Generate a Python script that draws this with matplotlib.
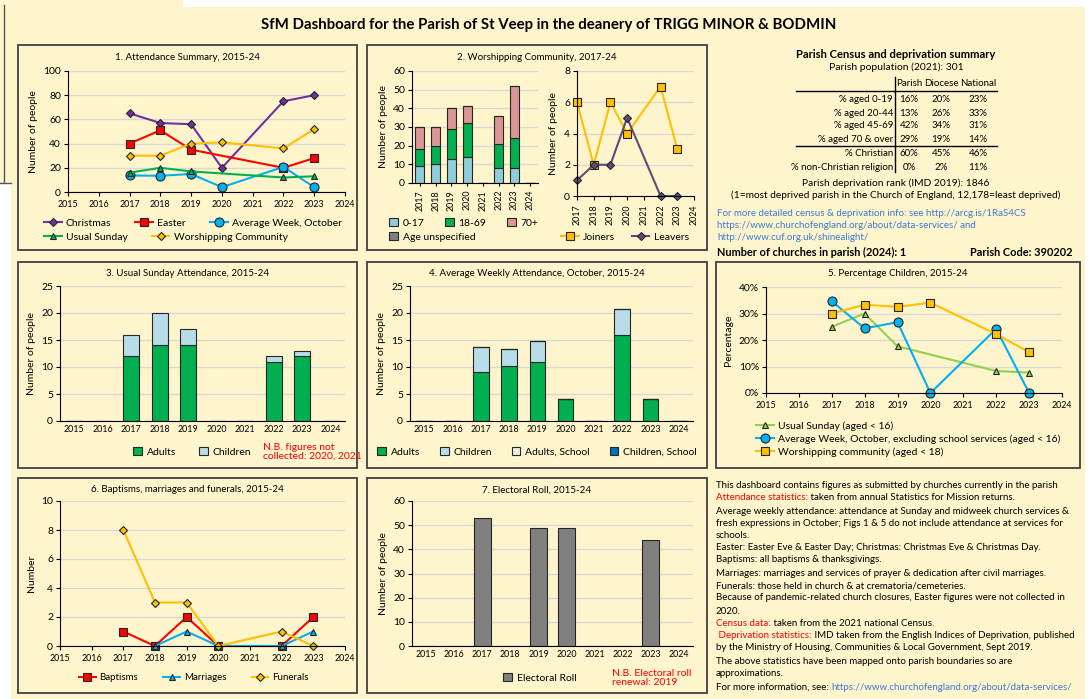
import numpy as np
import matplotlib
matplotlib.use("Agg")
import matplotlib.pyplot as plt
from matplotlib.patches import Rectangle
from matplotlib.legend import Legend

plt.rcParams['font.family'] = ['Lato', 'DejaVu Sans']

nan = np.nan
years = np.arange(2015, 2025)
year_labels = [str(y) for y in years]

# 1. Attendance summary
christmas = [nan, nan, 65, 57, 56, 20, nan, 75, 80, nan]
easter = [nan, nan, 40, 51, 35, nan, nan, 20, 28, nan]
avg_week = [nan, nan, 13.7, 13.4, 14.9, 4, nan, 20.7, 4, nan]
usual_sunday = [nan, nan, 16, 20, 17, nan, nan, 12, 13, nan]
worship_comm = [nan, nan, 30, 30, 40, 41, nan, 36, 52, nan]

# 2. Worshipping community
wc_years = np.arange(2017, 2025)
wc_0_17 = [9, 10, 13, 14, 0, 8, 8, 0]
wc_18_69 = [9, 10, 16, 18, 0, 13, 16, 0]
wc_70 = [12, 10, 11, 9, 0, 15, 28, 0]
wc_unspec = [0, 0, 0, 0, 0, 0, 0, 0]
joiners = [6, 2, 6, 4, nan, 7, 3, nan]
leavers = [1, 2, 2, 5, nan, 0, 0, nan]

# 3. Usual Sunday attendance
us_adults = [0, 0, 12, 14, 14, 0, 0, 11, 12, 0]
us_children = [0, 0, 4, 6, 3, 0, 0, 1, 1, 0]

# 4. Average weekly attendance, October
aw_adults = [0, 0, 9, 10.2, 10.9, 4, 0, 15.9, 4, 0]
aw_children = [0, 0, 4.7, 3.2, 4, 0, 0, 4.8, 0, 0]
aw_adults_school = [0, 0, 0, 0, 0, 0, 0, 0, 0, 0]
aw_children_school = [0, 0, 0, 0, 0, 0, 0, 0, 0, 0]

# 5. Percentage children
pct_usual = [nan, nan, 25, 30, 17.6, nan, nan, 8.3, 7.7, nan]
pct_avg = [nan, nan, 34.6, 24.4, 26.7, 0, nan, 24.2, 0, nan]
pct_wc = [nan, nan, 30, 33.3, 32.5, 34.1, nan, 22.2, 15.4, nan]

# 6. Baptisms, marriages, funerals
baptisms = [nan, nan, 1, 0, 2, 0, nan, 0, 2, nan]
marriages = [nan, nan, nan, 0, 1, 0, nan, 0, 1, nan]
funerals = [nan, nan, 8, 3, 3, 0, nan, 1, 0, nan]

# 7. Electoral roll
electoral = [0, 0, 53, 0, 49, 49, 0, 0, 44, 0]

# census table
census_rows = ['% aged 0-19', '% aged 20-44', '% aged 45-69', '% aged 70 & over',
               '% Christian', '% non-Christian religion']
census_parish = [16, 13, 42, 29, 60, 0]
census_diocese = [20, 26, 34, 19, 45, 2]
census_national = [23, 33, 31, 14, 46, 11]

CREAM = '#FFF5CC'
EDGE = '#262626'
GREEN = '#00B050'
LBLUE = '#B7DEE8'
CYAN = '#00B0F0'
ORANGE = '#FFC000'
PURPLE = '#7030A0'
RED = '#FF0000'
LINK = '#3A7BD5'

W, H = 1090, 699
fig = plt.figure(figsize=(W / 100, H / 100), dpi=100)
fig.patch.set_facecolor(CREAM)
bg = fig.add_axes([0, 0, 1, 1])
bg.set_xlim(0, W)
bg.set_ylim(H, 0)
bg.axis('off')

# page artefacts
bg.add_patch(Rectangle((183, 0), W - 183, 7, fc='white', ec='none'))
bg.add_patch(Rectangle((1085, 0), 5, H, fc='white', ec='none'))
bg.add_patch(Rectangle((0, 183), 11, H - 183, fc='white', ec='none'))
bg.plot([3.5, 3.5], [5, 182], color='#555555', lw=1)
bg.plot([0, 11], [182.5, 182.5], color='#555555', lw=1)

bg.text(549, 25, 'SfM Dashboard for the Parish of St Veep in the deanery of TRIGG MINOR & BODMIN',
        ha='center', va='center', fontsize=10.8, fontweight='bold')

boxes = [(18, 45, 357, 250, '1. Attendance Summary, 2015-24'),
         (367, 45, 707, 250, '2. Worshipping Community, 2017-24'),
         (18, 262, 357, 468, '3. Usual Sunday Attendance, 2015-24'),
         (367, 262, 707, 468, '4. Average Weekly Attendance, October, 2015-24'),
         (716, 262, 1080, 468, '5. Percentage Children, 2015-24'),
         (18, 478, 357, 693, '6. Baptisms, marriages and funerals, 2015-24'),
         (367, 478, 707, 693, '7. Electoral Roll, 2015-24')]
for x0, y0, x1, y1, title in boxes:
    bg.add_patch(Rectangle((x0, y0), x1 - x0, y1 - y0, fc='none', ec='#404040', lw=1.3))
    bg.text((x0 + x1) / 2, y0 + 12, title, ha='center', va='center', fontsize=7)


def add_ax(x0, y0, x1, y1):
    return fig.add_axes([x0 / W, 1 - y1 / H, (x1 - x0) / W, (y1 - y0) / H])


def style(ax, ymax, ystep, ylabel, xtick_len=3):
    ax.set_facecolor('none')
    for s in ['top', 'right']:
        ax.spines[s].set_visible(False)
    ax.set_ylim(0, ymax)
    ax.set_yticks(np.arange(0, ymax + 0.01, ystep))
    ax.yaxis.grid(True, color='#D9D9D9', lw=1)
    ax.set_axisbelow(True)
    ax.tick_params(axis='y', labelsize=7.5, length=3, pad=2)
    ax.tick_params(axis='x', labelsize=6.4, length=xtick_len, pad=3)
    ax.set_ylabel(ylabel, fontsize=7.5, labelpad=4)


def line(ax, x, y, color, marker, ms, label):
    x = np.asarray(x)
    y = np.asarray(y, float)
    m = ~np.isnan(y)
    return ax.plot(x[m], y[m], color=color, lw=1.5, marker=marker, ms=ms,
                   mfc=color, mec=EDGE, mew=0.8, label=label, clip_on=False)[0]


def fleg(handles, x, y, ncol, loc='center', **kw):
    opts = dict(frameon=False, fontsize=7.5, handlelength=1.7, handletextpad=0.4,
                columnspacing=2.1, labelspacing=0.35, borderpad=0, borderaxespad=0)
    opts.update(kw)
    leg = Legend(bg, handles, [h.get_label() for h in handles], loc=loc,
                 bbox_to_anchor=(x, y), bbox_transform=bg.transData, ncol=ncol, **opts)
    bg.add_artist(leg)
    return leg


def sq(color, label):
    return Rectangle((0, 0), 1, 1, fc=color, ec=EDGE, lw=0.8, label=label)


SQ = dict(handlelength=0.85, handleheight=0.85, handletextpad=0.45)

# ---- 1. Attendance summary
ax1 = add_ax(68, 71, 345, 192)
style(ax1, 100, 20, 'Number of people')
ax1.set_xlim(2015, 2024)
ax1.set_xticks(years)
h_chr = line(ax1, years, christmas, PURPLE, 'D', 4.5, 'Christmas')
h_eas = line(ax1, years, easter, RED, 's', 5.5, 'Easter')
h_avg = line(ax1, years, avg_week, CYAN, 'o', 6.5, 'Average Week, October')
h_us = line(ax1, years, usual_sunday, GREEN, '^', 5, 'Usual Sunday')
h_wc = line(ax1, years, worship_comm, ORANGE, 'D', 4, 'Worshipping Community')
fleg([h_chr, h_eas, h_avg], 44, 223, 3, loc='center left', columnspacing=2.3)
fleg([h_us, h_wc], 44, 237, 2, loc='center left', columnspacing=2.3)

# ---- 2. Worshipping community (bars)
ax2 = add_ax(412, 71, 538, 183)
style(ax2, 60, 10, 'Number of people', xtick_len=2)
xc = np.arange(len(wc_years))
b = np.zeros(len(wc_years))
for vals, col in [(wc_0_17, '#92CDDC'), (wc_18_69, GREEN), (wc_70, '#D99694'), (wc_unspec, '#7F7F7F')]:
    ax2.bar(xc, vals, 0.58, bottom=b, color=col, ec=EDGE, lw=0.8)
    b = b + np.array(vals)
ax2.set_xlim(-0.5, len(wc_years) - 0.5)
ax2.set_xticks(xc)
ax2.set_xticklabels([str(y) for y in wc_years], rotation=90)
fleg([sq('#92CDDC', '0-17'), sq(GREEN, '18-69'), sq('#D99694', '70+')], 389, 223, 3,
     loc='center left', columnspacing=2.0, **SQ)
fleg([sq('#7F7F7F', 'Age unspecified')], 389, 237, 1, loc='center left', **SQ)

ax2b = add_ax(577, 71, 694, 196)
style(ax2b, 8, 2, 'Number of people')
ax2b.set_xlim(2017, 2024)
ax2b.set_xticks(wc_years)
ax2b.set_xticklabels([str(y) for y in wc_years], rotation=90)
h_j = line(ax2b, wc_years, joiners, ORANGE, 's', 6, 'Joiners')
h_l = line(ax2b, wc_years, leavers, '#604A7B', 'D', 4.5, 'Leavers')
fleg([h_j, h_l], 561, 237, 2, loc='center left', columnspacing=1.6)

# ---- 3. Usual Sunday
xi = np.arange(len(years))
ax3 = add_ax(60, 286, 345, 421)
style(ax3, 25, 5, 'Number of people', xtick_len=0)
ax3.bar(xi, us_adults, 0.55, color=GREEN, ec=EDGE, lw=0.8)
ax3.bar(xi, us_children, 0.55, bottom=us_adults, color=LBLUE, ec=EDGE, lw=0.8)
ax3.set_xlim(-0.5, 9.5)
ax3.set_xticks(xi)
ax3.set_xticklabels(year_labels)
fleg([sq(GREEN, 'Adults'), sq(LBLUE, 'Children')], 133, 452, 2, loc='center left',
     columnspacing=2.2, **SQ)
bg.text(263, 452, 'N.B. figures not\ncollected: 2020, 2021', color=RED, fontsize=7.5,
        ha='left', va='center', linespacing=1.0)

# ---- 4. Average weekly attendance
ax4 = add_ax(410, 286, 693, 421)
style(ax4, 25, 5, 'Number of people', xtick_len=0)
b = np.zeros(len(years))
for vals, col in [(aw_adults, GREEN), (aw_children, LBLUE), (aw_adults_school, '#EEECE1'),
                  (aw_children_school, '#0070C0')]:
    ax4.bar(xi, vals, 0.55, bottom=b, color=col, ec=EDGE, lw=0.8)
    b = b + np.array(vals)
ax4.set_xlim(-0.5, 9.5)
ax4.set_xticks(xi)
ax4.set_xticklabels(year_labels)
fleg([sq(GREEN, 'Adults'), sq(LBLUE, 'Children'), sq('#EEECE1', 'Adults, School'),
      sq('#0070C0', 'Children, School')], 377, 452, 4, loc='center left', columnspacing=1.9, **SQ)

# ---- 5. Percentage children
ax5 = add_ax(766, 287, 1062, 393)
style(ax5, 40, 10, 'Percentage')
ax5.set_yticklabels([f'{v}%' for v in range(0, 41, 10)])
ax5.set_xlim(2015, 2024)
ax5.set_xticks(years)
h5a = line(ax5, years, pct_usual, '#92D050', '^', 5, 'Usual Sunday (aged < 16)')
h5b = line(ax5, years, pct_avg, CYAN, 'o', 6.5, 'Average Week, October, excluding school services (aged < 16)')
h5c = line(ax5, years, pct_wc, ORANGE, 's', 6, 'Worshipping community (aged < 18)')
fleg([h5a, h5b, h5c], 756, 439, 1, loc='center left', labelspacing=0.32)

# ---- 6. Baptisms, marriages, funerals
ax6 = add_ax(60, 501, 345, 646)
style(ax6, 10, 2, 'Number')
ax6.set_xlim(2015, 2024)
ax6.set_xticks(years)
h6a = line(ax6, years, baptisms, RED, 's', 5.5, 'Baptisms')
h6b = line(ax6, years, marriages, CYAN, '^', 5, 'Marriages')
h6c = line(ax6, years, funerals, ORANGE, 'D', 4.5, 'Funerals')
fleg([h6a, h6b, h6c], 79, 678, 3, loc='center left', fontsize=7, columnspacing=2.6)

# ---- 7. Electoral roll
ax7 = add_ax(412, 501, 693, 646)
style(ax7, 60, 10, 'Number of people', xtick_len=0)
ax7.bar(xi, electoral, 0.6, color='#808080', ec=EDGE, lw=0.8)
ax7.set_xlim(-0.5, 9.5)
ax7.set_xticks(xi)
ax7.set_xticklabels(year_labels)
fleg([sq('#808080', 'Electoral Roll')], 503, 678, 1, loc='center left', **SQ)
bg.text(612, 678, 'N.B. Electoral roll\nrenewal: 2019', color=RED, fontsize=7.5,
        ha='left', va='center', linespacing=1.0)

# ---- census summary
bg.text(896, 55, 'Parish Census and deprivation summary', ha='center', va='center',
        fontsize=8.1, fontweight='bold')
bg.text(896, 67, 'Parish population (2021): 301', ha='center', va='center', fontsize=7.5)
col_x = [909, 941, 978]
for cx, hdr in zip(col_x, ['Parish', 'Diocese', 'National']):
    bg.text(cx, 84, hdr, ha='center', va='center', fontsize=7)
row_y = [100, 113, 126, 139, 153, 167]
for ry, lab, p, d, n in zip(row_y, census_rows, census_parish, census_diocese, census_national):
    bg.text(893, ry, lab, ha='right', va='center', fontsize=7)
    for cx, v in zip(col_x, [p, d, n]):
        bg.text(cx, ry, f'{v}%', ha='center', va='center', fontsize=7)
bg.plot([895, 895], [77, 172], color='black', lw=1)
bg.plot([796, 997], [91, 91], color='black', lw=1)
bg.plot([796, 997], [146, 146], color='black', lw=1)
bg.text(896, 183, 'Parish deprivation rank (IMD 2019): 1846', ha='center', va='center', fontsize=7.4)
bg.text(896, 195, '(1=most deprived parish in the Church of England, 12,178=least deprived)',
        ha='center', va='center', fontsize=7.3)
for ly, t in zip([214, 226, 238], ['For more detailed census & deprivation info: see http://arcg.is/1RaS4CS',
                                  'https://www.churchofengland.org/about/data-services/ and',
                                  'http://www.cuf.org.uk/shinealight/']):
    bg.text(717, ly, t, ha='left', va='center', fontsize=7, color=LINK)
bg.text(717, 252, 'Number of churches in parish (2024): 1', ha='left', va='center',
        fontsize=7.9, fontweight='bold')
bg.text(1073, 252, 'Parish Code: 390202', ha='right', va='center', fontsize=7.9, fontweight='bold')

# ---- notes
notes = [
    [('This dashboard contains figures as submitted by churches currently in the parish', 'black')],
    [('Attendance statistics:', RED), (' taken from annual Statistics for Mission returns.', 'black')],
    [('Average weekly attendance: attendance at Sunday and midweek church services &', 'black')],
    [('fresh expressions in October; Figs 1 & 5 do not include attendance at services for', 'black')],
    [('schools.', 'black')],
    [('Easter: Easter Eve & Easter Day; Christmas: Christmas Eve & Christmas Day.', 'black')],
    [('Baptisms: all baptisms & thanksgivings.', 'black')],
    [('Marriages: marriages and services of prayer & dedication after civil marriages.', 'black')],
    [('Funerals: those held in church & at crematoria/cemeteries.', 'black')],
    [('Because of pandemic-related church closures, Easter figures were not collected in', 'black')],
    [('2020.', 'black')],
    [('Census data:', RED), (' taken from the 2021 national Census.', 'black')],
    [(' Deprivation statistics:', RED), (' IMD taken from the English Indices of Deprivation, published', 'black')],
    [('by the Ministry of Housing, Communities & Local Government, Sept 2019.', 'black')],
    [('The above statistics have been mapped onto parish boundaries so are', 'black')],
    [('approximations.', 'black')],
    [('For more information, see: ', 'black'), ('https://www.churchofengland.org/about/data-services/', LINK)],
]
note_y = [485, 497, 511, 523, 535, 548, 560, 574, 586, 598, 612, 624, 636, 648, 662, 674, 687]
for ny, segs in zip(note_y, notes):
    prev = bg.text(716, ny, segs[0][0], color=segs[0][1], ha='left', va='center', fontsize=7.05)
    for txt, col in segs[1:]:
        prev = bg.annotate(txt, xy=(1, 0.5), xycoords=prev, ha='left', va='center',
                           color=col, fontsize=7.05)

fig.savefig('out.png', dpi=100, facecolor=CREAM)
